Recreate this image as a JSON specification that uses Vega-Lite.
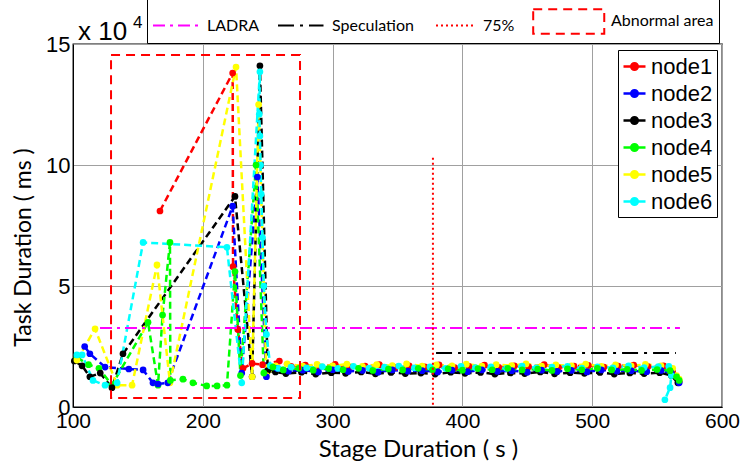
{
 "$schema": "https://vega.github.io/schema/vega-lite/v6.json",
 "width": 649, "height": 363,
 "autosize": {"type": "none"},
 "padding": {"left": 73, "top": 44, "right": 18, "bottom": 61},
 "background": "white",
 "config": {"view": {"stroke": "#000", "strokeWidth": 1.3}, "font": "Liberation Sans"},
 "datasets": {
  "nodes": [
   {"n":"node1","i":1,"x":167,"y":81000},{"n":"node1","i":2,"x":223,"y":138000},{"n":"node1","i":3,"x":223.3,"y":58000},{"n":"node1","i":4,"x":227,"y":32000},{"n":"node1","i":5,"x":231,"y":16000},{"n":"node1","i":6,"x":238,"y":18000},{"n":"node1","i":7,"x":246,"y":17500},{"n":"node1","i":8,"x":259,"y":19000},
   {"n":"node1","i":9,"x":268,"y":16800},{"n":"node1","i":10,"x":279,"y":17300},{"n":"node1","i":11,"x":290,"y":16500},{"n":"node1","i":12,"x":302,"y":17600},{"n":"node1","i":13,"x":313,"y":16400},{"n":"node1","i":14,"x":325,"y":16900},{"n":"node1","i":15,"x":336,"y":17500},{"n":"node1","i":16,"x":348,"y":16300},{"n":"node1","i":17,"x":359,"y":17000},{"n":"node1","i":18,"x":371,"y":16600},{"n":"node1","i":19,"x":382,"y":17400},{"n":"node1","i":20,"x":394,"y":16300},{"n":"node1","i":21,"x":405,"y":16800},{"n":"node1","i":22,"x":417,"y":17300},{"n":"node1","i":23,"x":428,"y":16400},{"n":"node1","i":24,"x":440,"y":17000},{"n":"node1","i":25,"x":451,"y":16600},{"n":"node1","i":26,"x":463,"y":17500},{"n":"node1","i":27,"x":474,"y":16300},{"n":"node1","i":28,"x":486,"y":16900},{"n":"node1","i":29,"x":497,"y":17200},{"n":"node1","i":30,"x":509,"y":16500},{"n":"node1","i":31,"x":520,"y":16900},{"n":"node1","i":32,"x":532,"y":17300},{"n":"node1","i":33,"x":543,"y":16700},{"n":"node1","i":34,"x":555,"y":17000},{"n":"node1","i":35,"x":562,"y":14500},{"n":"node1","i":36,"x":567,"y":10500},
   {"n":"node2","i":1,"x":109,"y":25000},{"n":"node2","i":2,"x":113,"y":22000},{"n":"node2","i":3,"x":124.7,"y":16500},{"n":"node2","i":4,"x":143,"y":15700},{"n":"node2","i":5,"x":154,"y":15300},{"n":"node2","i":6,"x":161.6,"y":10000},{"n":"node2","i":7,"x":165.5,"y":9500},{"n":"node2","i":8,"x":173,"y":10000},{"n":"node2","i":9,"x":223,"y":83000},{"n":"node2","i":10,"x":230,"y":14000},{"n":"node2","i":11,"x":242,"y":95000},{"n":"node2","i":12,"x":249,"y":12500},{"n":"node2","i":13,"x":257,"y":16000},
   {"n":"node2","i":14,"x":266,"y":14800},{"n":"node2","i":15,"x":277,"y":15200},{"n":"node2","i":16,"x":289,"y":14500},{"n":"node2","i":17,"x":300,"y":15400},{"n":"node2","i":18,"x":312,"y":14700},{"n":"node2","i":19,"x":323,"y":15100},{"n":"node2","i":20,"x":335,"y":14400},{"n":"node2","i":21,"x":346,"y":15300},{"n":"node2","i":22,"x":358,"y":14800},{"n":"node2","i":23,"x":369,"y":15000},{"n":"node2","i":24,"x":381,"y":14500},{"n":"node2","i":25,"x":392,"y":15200},{"n":"node2","i":26,"x":404,"y":14600},{"n":"node2","i":27,"x":415,"y":15300},{"n":"node2","i":28,"x":427,"y":14700},{"n":"node2","i":29,"x":438,"y":15000},{"n":"node2","i":30,"x":450,"y":14400},{"n":"node2","i":31,"x":461,"y":15200},{"n":"node2","i":32,"x":473,"y":14700},{"n":"node2","i":33,"x":484,"y":15100},{"n":"node2","i":34,"x":496,"y":14500},{"n":"node2","i":35,"x":507,"y":15300},{"n":"node2","i":36,"x":519,"y":14800},{"n":"node2","i":37,"x":530,"y":15000},{"n":"node2","i":38,"x":542,"y":14600},{"n":"node2","i":39,"x":553,"y":15100},{"n":"node2","i":40,"x":561,"y":14000},{"n":"node2","i":41,"x":567,"y":10000},
   {"n":"node3","i":1,"x":101,"y":19000},{"n":"node3","i":2,"x":107,"y":17000},{"n":"node3","i":3,"x":113,"y":12500},{"n":"node3","i":4,"x":121,"y":14000},{"n":"node3","i":5,"x":130,"y":8000},{"n":"node3","i":6,"x":138.5,"y":22000},{"n":"node3","i":7,"x":224.8,"y":87000},{"n":"node3","i":8,"x":238,"y":12500},{"n":"node3","i":9,"x":244,"y":141000},{"n":"node3","i":10,"x":250,"y":15000},{"n":"node3","i":11,"x":256,"y":14500},
   {"n":"node3","i":12,"x":264,"y":13800},{"n":"node3","i":13,"x":276,"y":14400},{"n":"node3","i":14,"x":287,"y":13600},{"n":"node3","i":15,"x":299,"y":14200},{"n":"node3","i":16,"x":310,"y":13900},{"n":"node3","i":17,"x":322,"y":14500},{"n":"node3","i":18,"x":333,"y":13700},{"n":"node3","i":19,"x":345,"y":14300},{"n":"node3","i":20,"x":356,"y":13800},{"n":"node3","i":21,"x":368,"y":14000},{"n":"node3","i":22,"x":379,"y":13600},{"n":"node3","i":23,"x":391,"y":14400},{"n":"node3","i":24,"x":402,"y":13900},{"n":"node3","i":25,"x":414,"y":14300},{"n":"node3","i":26,"x":425,"y":13600},{"n":"node3","i":27,"x":437,"y":14100},{"n":"node3","i":28,"x":448,"y":13800},{"n":"node3","i":29,"x":460,"y":14500},{"n":"node3","i":30,"x":471,"y":13700},{"n":"node3","i":31,"x":483,"y":14200},{"n":"node3","i":32,"x":494,"y":13900},{"n":"node3","i":33,"x":506,"y":14300},{"n":"node3","i":34,"x":517,"y":13600},{"n":"node3","i":35,"x":529,"y":14100},{"n":"node3","i":36,"x":540,"y":13800},{"n":"node3","i":37,"x":552,"y":14200},{"n":"node3","i":38,"x":561,"y":13000},{"n":"node3","i":39,"x":566,"y":10000},
   {"n":"node4","i":1,"x":103,"y":20500},{"n":"node4","i":2,"x":112,"y":17500},{"n":"node4","i":3,"x":120,"y":16000},{"n":"node4","i":4,"x":130,"y":9000},{"n":"node4","i":5,"x":157.8,"y":35000},{"n":"node4","i":6,"x":165.5,"y":9000},{"n":"node4","i":7,"x":169,"y":38000},{"n":"node4","i":8,"x":174.7,"y":68000},{"n":"node4","i":9,"x":175,"y":11000},{"n":"node4","i":10,"x":184.7,"y":11500},{"n":"node4","i":11,"x":192.4,"y":10000},{"n":"node4","i":12,"x":203,"y":8700},{"n":"node4","i":13,"x":211,"y":8700},{"n":"node4","i":14,"x":218.6,"y":9000},{"n":"node4","i":15,"x":224.8,"y":56000},{"n":"node4","i":16,"x":229,"y":13000},{"n":"node4","i":17,"x":241,"y":100000},{"n":"node4","i":18,"x":247,"y":14000},{"n":"node4","i":19,"x":254,"y":16500},
   {"n":"node4","i":20,"x":262,"y":15300},{"n":"node4","i":21,"x":274,"y":16000},{"n":"node4","i":22,"x":285,"y":15200},{"n":"node4","i":23,"x":297,"y":15900},{"n":"node4","i":24,"x":308,"y":15400},{"n":"node4","i":25,"x":320,"y":16000},{"n":"node4","i":26,"x":331,"y":15100},{"n":"node4","i":27,"x":343,"y":15700},{"n":"node4","i":28,"x":354,"y":15300},{"n":"node4","i":29,"x":366,"y":16000},{"n":"node4","i":30,"x":377,"y":15400},{"n":"node4","i":31,"x":389,"y":15800},{"n":"node4","i":32,"x":400,"y":15200},{"n":"node4","i":33,"x":412,"y":15900},{"n":"node4","i":34,"x":423,"y":15400},{"n":"node4","i":35,"x":435,"y":16000},{"n":"node4","i":36,"x":446,"y":15300},{"n":"node4","i":37,"x":458,"y":15700},{"n":"node4","i":38,"x":469,"y":15100},{"n":"node4","i":39,"x":481,"y":15800},{"n":"node4","i":40,"x":492,"y":15400},{"n":"node4","i":41,"x":504,"y":16000},{"n":"node4","i":42,"x":515,"y":15300},{"n":"node4","i":43,"x":527,"y":15600},{"n":"node4","i":44,"x":538,"y":15100},{"n":"node4","i":45,"x":550,"y":15500},{"n":"node4","i":46,"x":560,"y":15000},{"n":"node4","i":47,"x":565,"y":12500},{"n":"node4","i":48,"x":567,"y":11000},
   {"n":"node5","i":1,"x":103,"y":19400},{"n":"node5","i":2,"x":117,"y":32300},{"n":"node5","i":3,"x":134,"y":9000},{"n":"node5","i":4,"x":145.5,"y":9000},{"n":"node5","i":5,"x":164.7,"y":58700},{"n":"node5","i":6,"x":174.7,"y":10000},{"n":"node5","i":7,"x":225.6,"y":140500},{"n":"node5","i":8,"x":238,"y":12500},{"n":"node5","i":9,"x":243,"y":125000},{"n":"node5","i":10,"x":249,"y":13000},{"n":"node5","i":11,"x":256,"y":17000},
   {"n":"node5","i":12,"x":265,"y":17800},{"n":"node5","i":13,"x":277,"y":16900},{"n":"node5","i":14,"x":288,"y":17600},{"n":"node5","i":15,"x":300,"y":17000},{"n":"node5","i":16,"x":311,"y":17700},{"n":"node5","i":17,"x":323,"y":16800},{"n":"node5","i":18,"x":334,"y":17500},{"n":"node5","i":19,"x":346,"y":17100},{"n":"node5","i":20,"x":357,"y":17800},{"n":"node5","i":21,"x":369,"y":16900},{"n":"node5","i":22,"x":380,"y":17400},{"n":"node5","i":23,"x":392,"y":17000},{"n":"node5","i":24,"x":403,"y":17700},{"n":"node5","i":25,"x":415,"y":16900},{"n":"node5","i":26,"x":426,"y":17500},{"n":"node5","i":27,"x":438,"y":17100},{"n":"node5","i":28,"x":449,"y":17800},{"n":"node5","i":29,"x":461,"y":16900},{"n":"node5","i":30,"x":472,"y":17400},{"n":"node5","i":31,"x":484,"y":17000},{"n":"node5","i":32,"x":495,"y":17700},{"n":"node5","i":33,"x":507,"y":16800},{"n":"node5","i":34,"x":518,"y":17400},{"n":"node5","i":35,"x":530,"y":17000},{"n":"node5","i":36,"x":541,"y":17600},{"n":"node5","i":37,"x":553,"y":17000},{"n":"node5","i":38,"x":562,"y":16000},{"n":"node5","i":39,"x":565,"y":13000},{"n":"node5","i":40,"x":567,"y":11500},
   {"n":"node6","i":1,"x":103,"y":21500},{"n":"node6","i":2,"x":107,"y":21500},{"n":"node6","i":3,"x":115.4,"y":11000},{"n":"node6","i":4,"x":124.7,"y":9000},{"n":"node6","i":5,"x":134,"y":10000},{"n":"node6","i":6,"x":154,"y":68000},{"n":"node6","i":7,"x":218.6,"y":66000},{"n":"node6","i":8,"x":230,"y":10000},{"n":"node6","i":9,"x":244,"y":138500},{"n":"node6","i":10,"x":243.5,"y":121000},{"n":"node6","i":11,"x":244,"y":112000},{"n":"node6","i":12,"x":244.5,"y":100000},{"n":"node6","i":13,"x":245,"y":88000},{"n":"node6","i":14,"x":246,"y":70000},{"n":"node6","i":15,"x":247,"y":50000},{"n":"node6","i":16,"x":249,"y":30000},{"n":"node6","i":17,"x":252,"y":17000},{"n":"node6","i":18,"x":258,"y":16000},
   {"n":"node6","i":19,"x":268,"y":16500},{"n":"node6","i":20,"x":280,"y":16200},{"n":"node6","i":21,"x":292,"y":16700},{"n":"node6","i":22,"x":304,"y":16000},{"n":"node6","i":23,"x":316,"y":16800},{"n":"node6","i":24,"x":328,"y":16100},{"n":"node6","i":25,"x":340,"y":16500},{"n":"node6","i":26,"x":351,"y":16900},{"n":"node6","i":27,"x":363,"y":16200},{"n":"node6","i":28,"x":375,"y":16600},{"n":"node6","i":29,"x":387,"y":16000},{"n":"node6","i":30,"x":399,"y":16800},{"n":"node6","i":31,"x":410,"y":16300},{"n":"node6","i":32,"x":422,"y":16600},{"n":"node6","i":33,"x":434,"y":16000},{"n":"node6","i":34,"x":446,"y":16900},{"n":"node6","i":35,"x":457,"y":16200},{"n":"node6","i":36,"x":469,"y":16500},{"n":"node6","i":37,"x":481,"y":16800},{"n":"node6","i":38,"x":492,"y":16100},{"n":"node6","i":39,"x":504,"y":16600},{"n":"node6","i":40,"x":516,"y":16200},{"n":"node6","i":41,"x":528,"y":17000},{"n":"node6","i":42,"x":540,"y":16300},{"n":"node6","i":43,"x":551,"y":16700},{"n":"node6","i":44,"x":559,"y":16800},{"n":"node6","i":45,"x":561,"y":13000},{"n":"node6","i":46,"x":560,"y":8000},{"n":"node6","i":47,"x":556,"y":3000}
  ],
  "refs": [
   {"r":"LADRA","i":1,"x":120.8,"y":32600},{"r":"LADRA","i":2,"x":567.6,"y":32600},
   {"r":"Speculation","i":1,"x":379.7,"y":22300},{"r":"Speculation","i":2,"x":564.5,"y":22300},
   {"r":"75%","i":1,"x":377.3,"y":103000},{"r":"75%","i":2,"x":377.3,"y":0},
   {"r":"Abnormal area","i":1,"x":129.3,"y":145500},{"r":"Abnormal area","i":2,"x":274.9,"y":145500},{"r":"Abnormal area","i":3,"x":274.9,"y":3700},{"r":"Abnormal area","i":4,"x":129.3,"y":3700},{"r":"Abnormal area","i":5,"x":129.3,"y":145500}
  ],
  "note": [{"x":100,"y":150000}]
 },
 "encoding": {
  "x": {"field":"x","type":"quantitative","scale":{"domain":[100,600],"nice":false,"zero":false},
        "axis":{"values":[100,200,300,400,500,600],"title":"Stage Duration ( s )","titleFont":"Lato","titleFontSize":24,"titleFontWeight":"normal","titleColor":"#000","titleX":345,"titleY":30,"titleBaseline":"top","labelFont":"Liberation Sans","labelFontSize":21,"labelColor":"#000","labelPadding":3,"ticks":false,"domainColor":"#000","gridColor":"#a0a0a0","gridWidth":1,"labelFlush":false,"labelOverlap":false}},
  "y": {"field":"y","type":"quantitative","scale":{"domain":[0,150000],"nice":false},
        "axis":{"values":[0,50000,100000,150000],"labelExpr":"datum.value/10000","title":"Task Duration ( ms )","titleFont":"Lato","titleFontSize":23,"titleFontWeight":"normal","titleColor":"#000","titleX":-38,"titleY":203,"labelFont":"Liberation Sans","labelFontSize":22,"labelColor":"#000","labelPadding":3,"ticks":false,"domainColor":"#000","gridColor":"#a0a0a0","gridWidth":1,"labelFlush":false,"labelOverlap":false}}
 },
 "layer": [
  {"data":{"name":"nodes"},
   "mark":{"type":"line","strokeDash":[7,4],"strokeWidth":2.5,"point":{"filled":true,"size":45}},
   "encoding":{
    "color":{"field":"n","type":"nominal","scale":{"domain":["node1","node2","node3","node4","node5","node6"],"range":["#ff0000","#0000ff","#000000","#00ff00","#ffff00","#00ffff"]},
      "legend":{"title":null,"orient":"none","legendX":545,"legendY":6,"fillColor":"#fff","strokeColor":"#000","padding":4,"labelFont":"Liberation Sans","labelFontSize":22,"labelColor":"#000","symbolType":"M-1,0H-0.3M0.3,0H1M0.3,0A0.3,0.3,0,1,1,-0.3,0A0.3,0.3,0,1,1,0.3,0","symbolSize":484,"symbolStrokeWidth":2.5,"rowPadding":3,"labelOffset":4}},
    "order":{"field":"i","type":"quantitative"}
   }},
  {"data":{"name":"refs"},
   "mark":{"type":"line","strokeWidth":2},
   "encoding":{
    "color":{"field":"r","type":"nominal","scale":{"domain":["LADRA","Speculation","75%","Abnormal area"],"range":["#ff00ff","#000000","#ff0000","#ff0000"]},
      "legend":{"title":null,"orient":"none","legendX":74,"legendY":-64,"direction":"horizontal","columns":4,"strokeColor":"#000","fillColor":"#fff","padding":5,"labelFont":"Lato","labelFontSize":16,"labelColor":"#000","symbolSize":4900,"symbolStrokeWidth":2,"columnPadding":14,"labelOffset":-17,
        "encode":{"symbols":{"update":{"shape":{"signal":"datum.value === 'Abnormal area' ? 'M-1.68,-0.35H0.35V0.35H-1.68Z' : (datum.value === '75%' ? 'M-0.8,0H0.3' : 'M-1,0H0.3')"},"fill":{"value":"transparent"}}}}}},
    "strokeDash":{"field":"r","type":"nominal","scale":{"domain":["LADRA","Speculation","75%","Abnormal area"],"range":[[12,5,3,5],[16,6,3,6],[2,3],[9,6]]}},
    "order":{"field":"i","type":"quantitative"}
   }},
  {"data":{"name":"note"},
   "mark":{"type":"text","align":"left","baseline":"alphabetic","dx":5,"dy":-4,"fontSize":26,"font":"Liberation Sans","color":"#000"},
   "encoding":{"text":{"value":"x 10"}}},
  {"data":{"name":"note"},
   "mark":{"type":"text","align":"left","baseline":"alphabetic","dx":60,"dy":-16,"fontSize":17,"font":"Liberation Sans","color":"#000"},
   "encoding":{"text":{"value":"4"}}}
 ],
 "resolve": {"scale": {"color": "independent", "strokeDash": "independent"}}
}
